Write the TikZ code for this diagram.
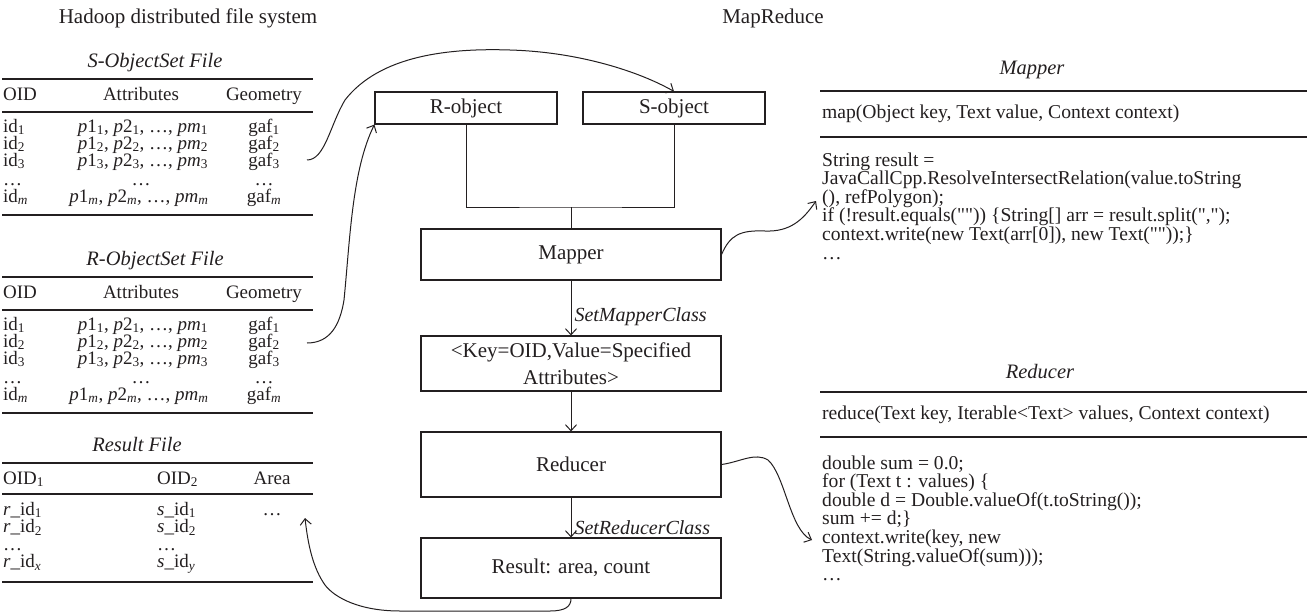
\documentclass[tikz,border=0pt]{standalone}
\usepackage{fontspec}
\setmainfont{Liberation Serif}
\usetikzlibrary{arrows.meta}
% upright face for program text, keeping straight quotes
\newfontfamily\cdface{Liberation Serif}[Ligatures=TeXOff]
\newcommand\bigsz{\fontsize{21}{27}\selectfont}
\newcommand\ttlsz{\fontsize{20.5}{22}\selectfont}
\newcommand\tabsz{\fontsize{19}{18.6}\selectfont}
\newcommand\codesz{\fontsize{19.6}{18.6}\selectfont\cdface}
\newcommand\lo[1]{\textsubscript{#1}}
\definecolor{ink}{RGB}{35,31,32}

\tikzset{
  blk/.style={draw=ink, text=ink, line width=1.1pt, inner sep=0pt, minimum width=300pt,
    font=\bigsz, align=center},
  objbox/.style={blk, minimum width=182pt, minimum height=32pt},
  conn/.style={draw=ink, line width=1pt},
  arr/.style={conn, -{Straight Barb[length=6pt,width=11pt,line width=1pt]}},
  hrule/.style={draw=ink, line width=1.2pt},
  heading/.style={font=\bigsz, text=ink, inner sep=0pt},
  tabttl/.style={font=\ttlsz\itshape, text=ink, inner sep=0pt},
  tcell/.style={font=\tabsz, text=ink, inner sep=0pt, anchor=base,
    text height=12pt, text depth=3.5pt},
  tcellw/.style={tcell, anchor=base west},
  codeln/.style={font=\codesz, text=ink, inner sep=0pt, anchor=base west,
    text height=13pt, text depth=4pt},
  steplbl/.style={font=\fontsize{20}{22}\selectfont\itshape, text=ink, inner sep=0pt, anchor=west},
}

% object set file of the distributed file system
\newcommand\objtable[3]{%
  \begin{scope}[shift={(0,#3)}]
    \node[tabttl] (#1ttl) at (155,-16) {#2};
    \draw[hrule] (2,0) -- (313,0);
    \node[tcellw] (#1h1) at (3,21) {OID};
    \node[tcell] (#1h2) at (141,21) {Attributes};
    \node[tcell] (#1h3) at (264,21) {Geometry};
    \draw[hrule] (2,33) -- (313,33);
    \node[tcellw] (#1a1) at (3,53) {id\lo{1}};
    \node[tcell] (#1b1) at (143,53) {\textit{p}1\lo{1}, \textit{p}2\lo{1}, \ldots, \textit{pm}\lo{1}};
    \node[tcell] (#1c1) at (264,53) {gaf\lo{1}};
    \node[tcellw] (#1a2) at (3,70) {id\lo{2}};
    \node[tcell] (#1b2) at (143,70) {\textit{p}1\lo{2}, \textit{p}2\lo{2}, \ldots, \textit{pm}\lo{2}};
    \node[tcell] (#1c2) at (264,70) {gaf\lo{2}};
    \node[tcellw] (#1a3) at (3,87) {id\lo{3}};
    \node[tcell] (#1b3) at (143,87) {\textit{p}1\lo{3}, \textit{p}2\lo{3}, \ldots, \textit{pm}\lo{3}};
    \node[tcell] (#1c3) at (264,87) {gaf\lo{3}};
    \node[tcellw] (#1a4) at (3,106) {\ldots};
    \node[tcell] (#1b4) at (141,106) {\ldots};
    \node[tcell] (#1c4) at (264,106) {\ldots};
    \node[tcellw] (#1a5) at (3,123) {id\lo{\textit{m}}};
    \node[tcell] (#1b5) at (139,123) {\textit{p}1\lo{\textit{m}}, \textit{p}2\lo{\textit{m}}, \ldots, \textit{pm}\lo{\textit{m}}};
    \node[tcell] (#1c5) at (264,123) {gaf\lo{\textit{m}}};
    \draw[hrule] (2,136) -- (313,136);
  \end{scope}}

\begin{document}
\begin{tikzpicture}[x=1pt, y=-1pt]
\useasboundingbox (0,0) rectangle (1307,613);

% section headings
\node[heading] (hdfs) at (188,18) {Hadoop distributed file system};
\node[heading] (mr) at (773,18) {MapReduce};

% files
\objtable{sf}{S-ObjectSet File}{79}
\objtable{rf}{R-ObjectSet File}{277}

\begin{scope}[shift={(0,463)}]
  \node[tabttl] (resttl) at (137,-18) {Result File};
  \draw[hrule] (2,0) -- (313,0);
  \node[tcellw] (rh1) at (3,21) {OID\lo{1}};
  \node[tcellw] (rh2) at (157,21) {OID\lo{2}};
  \node[tcell] (rh3) at (272,21) {Area};
  \draw[hrule] (2,31) -- (313,31);
  \node[tcellw] (ra1) at (3,52) {\textit{r}\_id\lo{1}};
  \node[tcellw] (rb1) at (157,52) {\textit{s}\_id\lo{1}};
  \node[tcell] (rc1) at (272,52) {\ldots};
  \node[tcellw] (ra2) at (3,69.5) {\textit{r}\_id\lo{2}};
  \node[tcellw] (rb2) at (157,69.5) {\textit{s}\_id\lo{2}};
  \node[tcellw] (ra3) at (3,87) {\ldots};
  \node[tcellw] (rb3) at (157,87) {\ldots};
  \node[tcellw] (ra4) at (3,104.5) {\textit{r}\_id\lo{\textit{x}}};
  \node[tcellw] (rb4) at (157,104.5) {\textit{s}\_id\lo{\textit{y}}};
  \draw[hrule] (2,119) -- (313,119);
\end{scope}

% job flow
\node[objbox] (robj) at (466,108) {R-object};
\node[objbox] (sobj) at (674,108) {S-object};
\node[blk, minimum height=51pt] (mapbox) at (571,254.5) {Mapper};
\node[blk, minimum height=55pt] (kvbox) at (571,363.5) {<Key=OID,Value=Specified\\Attributes>};
\node[blk, minimum height=65pt] (redbox) at (571,464.5) {Reducer};
\node[blk, minimum height=60pt] (resbox) at (571,568) {Result: area, count};

\coordinate (jn) at (571,207);
\draw[conn] (robj.south) |- (jn) -| (sobj.south);
\draw[conn] (jn) -- (mapbox.north);
\draw[arr] (mapbox.south) -- node[steplbl, pos=0.66, xshift=3pt] (lblmap) {SetMapperClass} (kvbox.north);
\draw[arr] (kvbox.south) -- (redbox.north);
\draw[arr] (redbox.south) -- node[steplbl, pos=0.75, xshift=3pt] (lblred) {SetReducerClass} (resbox.north);

% mapper class
\node[tabttl] (mttl) at (1032,70) {Mapper};
\draw[hrule] (820,91) -- (1307,91);
\node[codeln] (msig) at (822,118) {map(Object key, Text value, Context context)};
\draw[hrule] (820,137) -- (1307,137);
\node[codeln] (mc1) at (822,166) {String result =};
\node[codeln] (mc2) at (822,184.6) {JavaCallCpp.ResolveIntersectRelation(value.toString};
\node[codeln] (mc3) at (822,203.2) {(), refPolygon);};
\node[codeln] (mc4) at (822,221.8) {if (!result.equals("")) \{String[] arr = result.split(",");};
\node[codeln] (mc5) at (822,240.4) {context.write(new Text(arr[0]), new Text(""));\}};
\node[codeln] (mc6) at (822,259) {\ldots};

% reducer class
\node[tabttl] (rttl) at (1040,372) {Reducer};
\draw[hrule] (820,392) -- (1307,392);
\node[codeln] (rsig) at (822,419) {reduce(Text key, Iterable<Text> values, Context context)};
\draw[hrule] (820,437) -- (1307,437);
\node[codeln] (rc1) at (822,469) {double sum = 0.0;};
\node[codeln] (rc2) at (822,487.6) {for (Text t : values) \{};
\node[codeln] (rc3) at (822,506.2) {double d = Double.valueOf(t.toString());};
\node[codeln] (rc4) at (822,524.8) {sum += d;\}};
\node[codeln] (rc5) at (822,543.4) {context.write(key, new};
\node[codeln] (rc6) at (822,562) {Text(String.valueOf(sum)));};
\node[codeln] (rc7) at (822,580.6) {\ldots};

% data and code links
\coordinate (sOut) at (307,160);
\coordinate (rOut) at (307,343);
\coordinate (mTip) at (816,201);
\coordinate (rTip) at (812,540);
\coordinate (tTip) at (305,518);

\draw[arr] (sOut) .. controls (325,160) and (330,125) .. (345,100)
  .. controls (380,55) and (450,48) .. (510,50)
  .. controls (580,52) and (640,72) .. (sobj.north);
\draw[arr] (rOut) .. controls (330,343) and (340,325) .. (344,300)
  .. controls (350,240) and (352,170) .. (robj.south west);
\draw[arr] (mapbox.east) .. controls (730,235) and (740,230) .. (765,231)
  .. controls (790,232) and (803,220) .. (mTip);
\draw[arr] (redbox.east) .. controls (740,462) and (755,452) .. (768,460)
  .. controls (785,475) and (790,530) .. (rTip);
\draw[arr] (resbox.south) .. controls (571,606) and (566,611) .. (550,611)
  -- (400,611) .. controls (360,611) and (335,598) .. (325,585)
  .. controls (313,568) and (308,545) .. (tTip);
\end{tikzpicture}
\end{document}
